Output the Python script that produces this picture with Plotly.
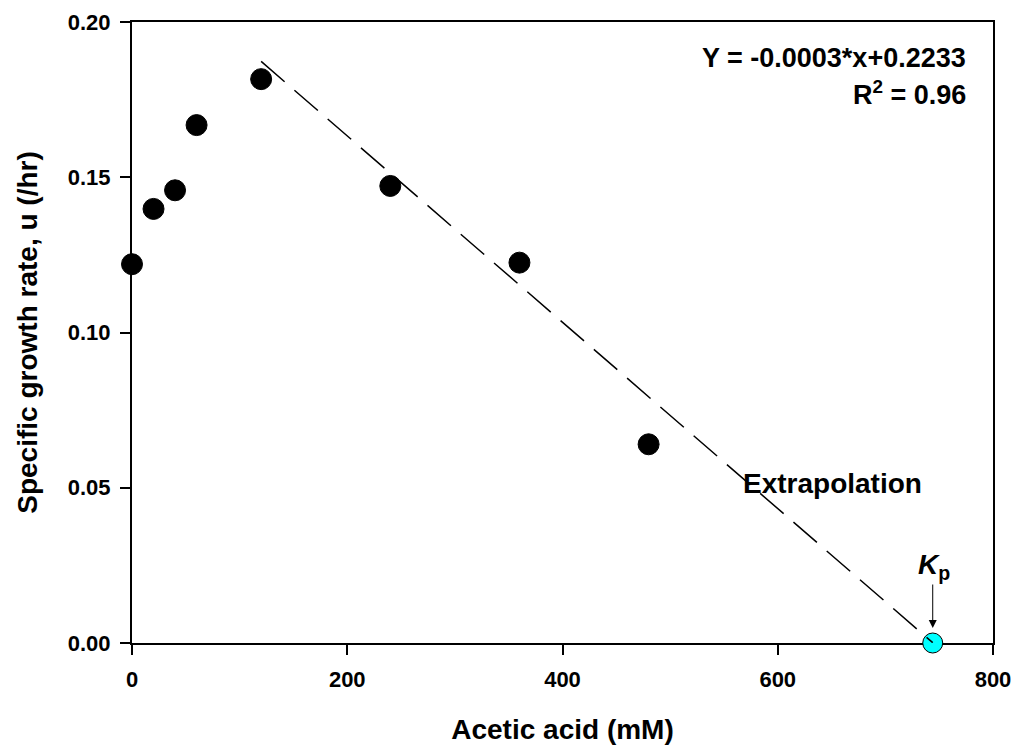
import plotly.graph_objects as go

# Data
acetic_mM = [0, 20, 40, 60, 120, 240, 360, 480]
growth_rate = [0.122, 0.1398, 0.1458, 0.1668, 0.1816, 0.1472, 0.1225, 0.064]
kp_x = [744]
kp_y = [0.0]
fit_slope = -0.0003
fit_intercept = 0.2233
fit_x = [120, 744]
fit_y = [fit_slope * v + fit_intercept for v in fit_x]
x_ticks = [0, 200, 400, 600, 800]
y_ticks = [0.00, 0.05, 0.10, 0.15, 0.20]
y_tick_text = ["0.00", "0.05", "0.10", "0.15", "0.20"]

FONT = "Liberation Sans, Arial, sans-serif"

fig = go.Figure()
fig.add_trace(go.Scatter(
    x=acetic_mM, y=growth_rate, mode="markers",
    marker=dict(color="black", size=21, line=dict(color="black", width=1)),
    showlegend=False, cliponaxis=False))
fig.add_trace(go.Scatter(
    x=kp_x, y=kp_y, mode="markers",
    marker=dict(color="#00FFFF", size=20, line=dict(color="black", width=1)),
    showlegend=False, cliponaxis=False))
fig.add_trace(go.Scatter(
    x=fit_x, y=fit_y, mode="lines",
    line=dict(color="black", width=1.5, dash="31px,13px"),
    showlegend=False, hoverinfo="skip", cliponaxis=False))

fig.update_layout(
    width=1012, height=745,
    margin=dict(l=124, r=27, t=14, b=110, autoexpand=False),
    plot_bgcolor="white", paper_bgcolor="white",
    font=dict(family=FONT, color="black"),
)
fig.update_xaxes(
    range=[0, 800], tickvals=x_ticks, ticktext=[str(v) for v in x_ticks],
    showgrid=False, zeroline=False, showline=True, linecolor="black", linewidth=2,
    mirror=True, ticks="outside", ticklen=10, tickwidth=2, tickcolor="black",
    tickfont=dict(size=22, family=FONT, weight="bold"), ticklabelstandoff=6,
    automargin=False, layer="below traces",
    title=dict(text="Acetic acid (mM)", font=dict(size=28, family=FONT, weight="bold"), standoff=28),
)
fig.update_yaxes(
    range=[0, 0.2], tickvals=y_ticks, ticktext=y_tick_text,
    showgrid=False, zeroline=False, showline=True, linecolor="black", linewidth=2,
    mirror=True, ticks="outside", ticklen=10, tickwidth=2, tickcolor="black",
    tickfont=dict(size=22, family=FONT, weight="bold"), ticklabelstandoff=5,
    automargin=False, layer="below traces",
    title=dict(text="Specific growth rate, u (/hr)", font=dict(size=28, family=FONT, weight="bold"), standoff=22),
)

fig.add_annotation(x=777, y=0.1884, xref="x", yref="y", xanchor="right", yanchor="middle",
                   text="Y = -0.0003*x+0.2233", showarrow=False,
                   font=dict(size=27, family=FONT, weight="bold"))
fig.add_annotation(x=777, y=0.1771, xref="x", yref="y", xanchor="right", yanchor="middle",
                   text="R<sup>2</sup> = 0.96", showarrow=False,
                   font=dict(size=27, family=FONT, weight="bold"))
fig.add_annotation(x=651, y=0.0515, xref="x", yref="y", xanchor="center", yanchor="middle",
                   text="Extrapolation", showarrow=False,
                   font=dict(size=28, family=FONT, weight="bold"))
fig.add_annotation(x=744, y=0, xref="x", yref="y", ax=0, ay=-60, axref="pixel", ayref="pixel",
                   text="", showarrow=True, arrowhead=2, arrowsize=1.6, arrowwidth=1,
                   arrowcolor="black", standoff=15)
fig.add_annotation(x=745, y=0.0245, xref="x", yref="y", xanchor="center", yanchor="middle",
                   text="<i>K</i><sub>p</sub>", showarrow=False,
                   font=dict(size=28, family=FONT, weight="bold"))

fig.write_html("out.html")
